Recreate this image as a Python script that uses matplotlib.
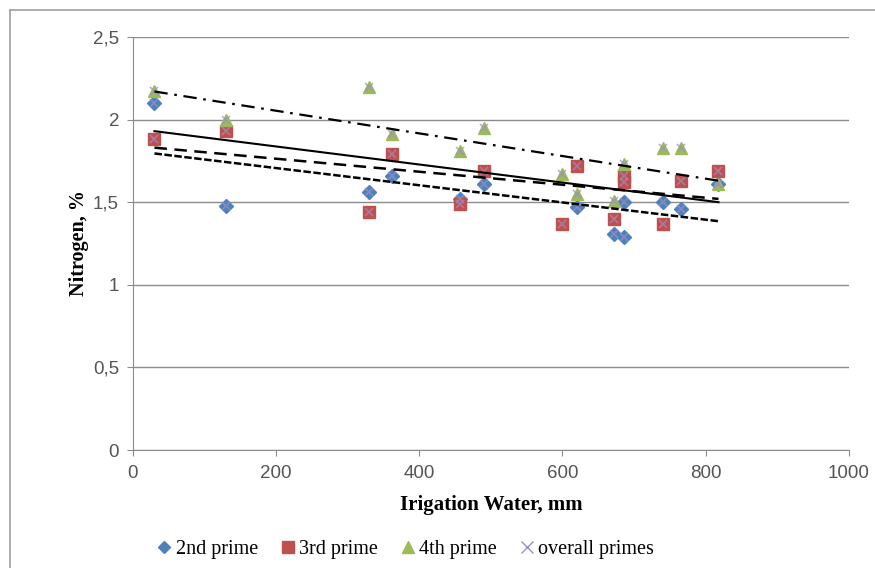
import matplotlib.pyplot as plt
from matplotlib.lines import Line2D

plt.rcParams['font.family'] = ['Liberation Serif', 'DejaVu Serif']

# data
x_2nd = [30, 130, 330, 362, 457, 490, 620, 672, 686, 686, 740, 765, 818]
n_2nd = [2.10, 1.48, 1.56, 1.66, 1.52, 1.61, 1.47, 1.31, 1.29, 1.50, 1.50, 1.46, 1.61]

x_3rd = [30, 130, 330, 362, 457, 490, 600, 620, 672, 686, 686, 740, 765, 818]
n_3rd = [1.88, 1.93, 1.44, 1.79, 1.49, 1.69, 1.37, 1.72, 1.40, 1.66, 1.62, 1.37, 1.63, 1.69]

x_4th = [30, 130, 330, 362, 457, 490, 600, 620, 672, 686, 740, 765, 818]
n_4th = [2.17, 2.00, 2.20, 1.91, 1.81, 1.95, 1.67, 1.55, 1.51, 1.73, 1.83, 1.83, 1.61]

# linear trendlines, start/end values
trend_x = [30, 818]
trend_2nd = [1.795, 1.385]
trend_3rd = [1.83, 1.52]
trend_4th = [2.17, 1.63]
trend_all = [1.93, 1.50]

x_ticks = [0, 200, 400, 600, 800, 1000]
y_ticks = [0, 0.5, 1, 1.5, 2, 2.5]
y_tick_labels = ['0', '0,5', '1', '1,5', '2', '2,5']

blue = '#4F81BD'
red = '#C0504D'
green = '#9BBB59'
purple = '#9D8FC4'
grey = '#8C8C8C'

fig = plt.figure(figsize=(8.75, 5.68), dpi=100)
ax = fig.add_axes([0.152, 0.2077, 0.818, 0.7272])

ax.plot(x_2nd, n_2nd, linestyle='none', marker='D', markersize=7, color=blue, zorder=3)
ax.plot(x_3rd, n_3rd, linestyle='none', marker='s', markersize=8.5, color=red, zorder=3)
ax.plot(x_4th, n_4th, linestyle='none', marker='^', markersize=8.5, color=green, zorder=3)

# overall primes = all points together
x_all = x_2nd + x_3rd + x_4th
n_all = n_2nd + n_3rd + n_4th
ax.plot(x_all, n_all, linestyle='none', marker='x', markersize=6, markeredgewidth=1.2,
        color=purple, alpha=0.7, zorder=4)

ax.plot(trend_x, trend_2nd, color='black', lw=1.8, dashes=(3, 1), zorder=5)
ax.plot(trend_x, trend_3rd, color='black', lw=1.8, dashes=(5, 3), zorder=5)
ax.plot(trend_x, trend_4th, color='black', lw=1.6, dashes=(6, 3, 1.2, 3), zorder=5)
ax.plot(trend_x, trend_all, color='black', lw=1.5, zorder=5)

ax.set_xlim(0, 1000)
ax.set_ylim(0, 2.5)
ax.set_xticks(x_ticks)
ax.set_yticks(y_ticks)
ax.set_yticklabels(y_tick_labels)
ax.grid(axis='y', color=grey, lw=1.0)
ax.set_axisbelow(True)
for side in ['top', 'right']:
    ax.spines[side].set_visible(False)
for side in ['left', 'bottom']:
    ax.spines[side].set_color(grey)
ax.tick_params(axis='both', colors=grey, labelcolor='#555555', labelsize=13.5, length=4)
ax.tick_params(axis='x', pad=7)
ax.tick_params(axis='y', pad=6)
for lbl in ax.get_xticklabels() + ax.get_yticklabels():
    lbl.set_family(['Liberation Sans', 'DejaVu Sans'])

ax.set_xlabel('Irigation Water, mm', fontsize=15, fontweight='bold', labelpad=9)
ax.set_ylabel('Nitrogen, %', fontsize=14.5, fontweight='bold', labelpad=3)

handles = [
    Line2D([], [], linestyle='none', marker='D', markersize=6, color=blue),
    Line2D([], [], linestyle='none', marker='s', markersize=8, color=red),
    Line2D([], [], linestyle='none', marker='^', markersize=8, color=green),
    Line2D([], [], linestyle='none', marker='x', markersize=9, color=purple),
]
labels = ['2nd prime', '3rd prime', '4th prime', 'overall primes']
fig.legend(handles, labels, loc='center', bbox_to_anchor=(0.462, 0.033), ncol=4,
           frameon=False, fontsize=14.5, handletextpad=0.05, columnspacing=1.0,
           handlelength=1.0)

# outer chart frame (left and top edges)
fig.add_artist(Line2D([10 / 875, 10 / 875], [0, 1 - 10 / 568], color='#A0A0A0', lw=1.2,
                      transform=fig.transFigure))
fig.add_artist(Line2D([10 / 875, 1], [1 - 10 / 568, 1 - 10 / 568], color='#A0A0A0', lw=1.2,
                      transform=fig.transFigure))

fig.savefig('out.png', dpi=100)
